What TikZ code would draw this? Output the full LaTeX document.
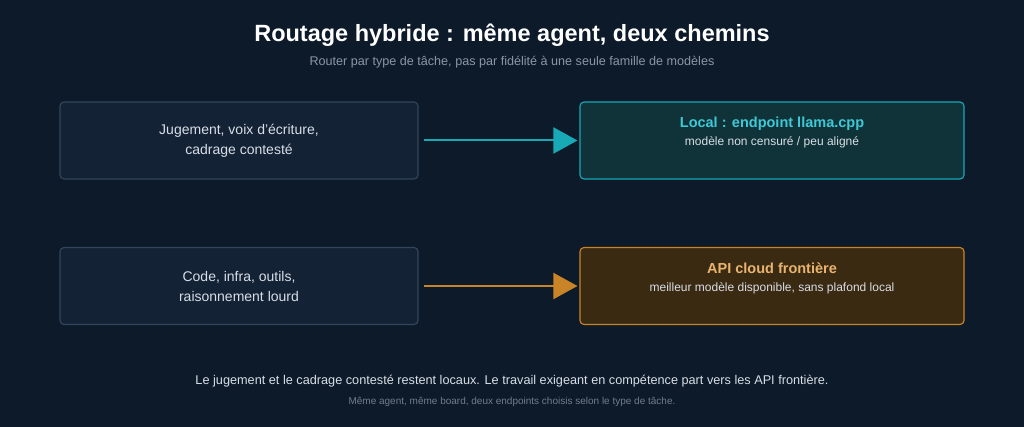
\documentclass[tikz,border=0pt]{standalone}
\usepackage{fontspec}
\setmainfont{Liberation Sans}
\usetikzlibrary{arrows.meta}
\definecolor{bgc}{HTML}{0D1A2A}
\definecolor{taskfill}{HTML}{142236}
\definecolor{taskline}{HTML}{34465A}
\definecolor{tealfill}{HTML}{0F3338}
\definecolor{tealline}{HTML}{17A9B6}
\definecolor{tealtext}{HTML}{3FC8D6}
\definecolor{orfill}{HTML}{3B2A12}
\definecolor{orline}{HTML}{C98428}
\definecolor{ortext}{HTML}{E8B470}
\definecolor{txt}{HTML}{D8DEE6}
\definecolor{muted}{HTML}{8A96A6}
\tikzset{
  box/.style={
    rectangle,
    rounded corners=4pt,
    line width=1.1pt,
    minimum width=358pt,
    minimum height=77pt,
    inner sep=0,
    align=center,
  },
  task/.style={
    box,
    draw=taskline,
    fill=taskfill,
    text=txt,
    font=\fontsize{14}{20}\selectfont,
  },
  local/.style={
    box,
    minimum width=384pt,
    draw=tealline,
    fill=tealfill,
  },
  cloud/.style={
    box,
    minimum width=384pt,
    draw=orline,
    fill=orfill,
  },
  route/.style={
    -{Triangle[length=24pt,width=26pt]},
    line width=2pt,
    shorten >=2pt,
  }
}

\begin{document}
\begin{tikzpicture}[x=1pt,y=-1pt]
    \fill[bgc] (0,0) rectangle (1024,427);
    \useasboundingbox (0,0) rectangle (1024,427);

    \node[text=white,font=\bfseries\fontsize{23.5}{26}\selectfont] (title) at (512,35)
      {Routage hybride : même agent, deux chemins};
    \node[text=muted,font=\fontsize{12.6}{14}\selectfont] (sub) at (512,62)
      {Router par type de tâche, pas par fidélité à une seule famille de modèles};

    % first row
    \node[task] (judge) at (239,140.5) {Jugement, voix d'écriture,\\cadrage contesté};
    \node[local,text depth=18pt] (llama) at (772,140.5)
      {{\color{tealtext}\bfseries\fontsize{14.5}{16}\selectfont Local : endpoint llama.cpp}\\[6pt]
       {\color{txt}\fontsize{12}{14}\selectfont modèle non censuré / peu aligné}};
    \draw[route,tealline] (judge.east) ++(5,0) coordinate (j0) (j0) -- (llama.west);

    % second row
    \node[task] (code) at (239,286) {Code, infra, outils,\\raisonnement lourd};
    \node[cloud,text depth=18pt] (api) at (772,286)
      {{\color{ortext}\bfseries\fontsize{14.5}{16}\selectfont API cloud frontière}\\[6pt]
       {\color{txt}\fontsize{12}{14}\selectfont meilleur modèle disponible, sans plafond local}};
    \draw[route,orline] (code.east) ++(5,0) coordinate (c0) (c0) -- (api.west);

    \node[text=txt,font=\fontsize{12.7}{15}\selectfont] (note) at (512,381)
      {Le jugement et le cadrage contesté restent locaux. Le travail exigeant en compétence part vers les API frontière.};
    \node[text=muted!80!bgc,font=\fontsize{10}{12}\selectfont] (foot) at (512,402)
      {Même agent, même board, deux endpoints choisis selon le type de tâche.};
\end{tikzpicture}
\end{document}
